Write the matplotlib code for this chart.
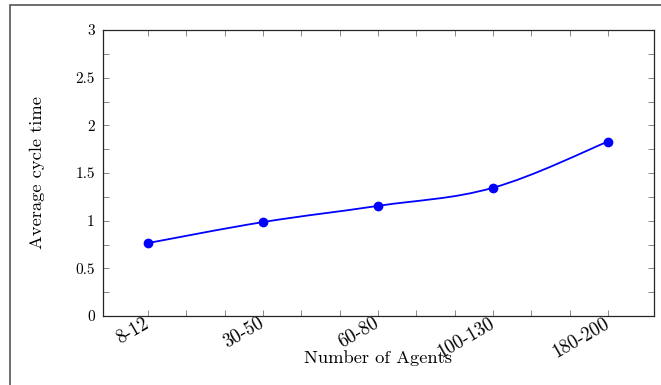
import numpy as np
import matplotlib
matplotlib.use('Agg')
import matplotlib.pyplot as plt
from matplotlib.path import Path
from matplotlib.patches import PathPatch, Rectangle
from matplotlib.transforms import ScaledTranslation

plt.rcParams['font.family'] = ['cmr10', 'DejaVu Serif']
plt.rcParams['axes.formatter.use_mathtext'] = True
plt.rcParams['font.size'] = 11

categories = ['8-12', '30-50', '60-80', '100-130', '180-200']
cycle_time = [0.765, 0.985, 1.155, 1.345, 1.83]

blue = '#0000ff'

fig = plt.figure(figsize=(6.61, 3.85), dpi=100)
ax = fig.add_axes([103/661, 1-316/385, 551/661, 286/385])

# frame around the figure (cropped screenshot border)
fig.patches.append(Rectangle((10/661, -0.05), 1.0, 1-5/385+0.05,
                             transform=fig.transFigure, fill=False,
                             edgecolor='#555555', linewidth=1.2))

# smooth line like pgfplots "smooth"
xs = np.arange(len(categories), dtype=float)
ys = np.array(cycle_time)
pts = np.column_stack([xs, ys])
t = 0.18
verts = [pts[0]]
codes = [Path.MOVETO]
for i in range(len(pts) - 1):
    p_prev = pts[i-1] if i > 0 else pts[i]
    p_next2 = pts[i+2] if i + 2 < len(pts) else pts[i+1]
    c1 = pts[i] + t * (pts[i+1] - p_prev)
    c2 = pts[i+1] - t * (p_next2 - pts[i])
    verts += [c1, c2, pts[i+1]]
    codes += [Path.CURVE4] * 3
ax.add_patch(PathPatch(Path(verts, codes), facecolor='none',
                       edgecolor=blue, linewidth=1.3, zorder=3))
ax.plot(xs, ys, linestyle='none', marker='o', markersize=6,
        color=blue, zorder=4)

ax.set_xlim(-0.39, 4.4)
ax.set_ylim(0, 3)

xt = np.arange(0, 4.01, 1/3)
xl = []
for v in xt:
    k = int(round(v))
    xl.append(categories[k] if abs(v - k) < 1e-6 else '')
ax.set_xticks(xt)
ax.set_xticklabels(xl, rotation=30, ha='right', va='center',
                   rotation_mode='anchor', fontsize=13.5)
shift = ScaledTranslation(-8/100, 0, fig.dpi_scale_trans)
for lab in ax.get_xticklabels():
    lab.set_transform(lab.get_transform() + shift)
ax.set_yticks(np.arange(0, 3.01, 0.5))
ax.set_yticklabels(['0', '0.5', '1', '1.5', '2', '2.5', '3'])
ax.set_yticks(np.arange(0.25, 3, 0.5), minor=True)

ax.tick_params(which='both', direction='in', top=True, right=True,
               length=4, width=0.6, color='0.45', pad=6)
ax.tick_params(axis='x', pad=4.3)
for s in ax.spines.values():
    s.set_linewidth(0.9)
    s.set_color('0.15')

ax.set_xlabel('Number of Agents', fontsize=13.3)
ax.xaxis.set_label_coords(0.5, (316-358)/286)
ax.xaxis.label.set_va('center')
ax.set_ylabel('Average cycle time', fontsize=13.3)
ax.yaxis.set_label_coords((37-103)/551, 0.5)
ax.yaxis.label.set_va('center')

plt.savefig('out.png', dpi=100)
